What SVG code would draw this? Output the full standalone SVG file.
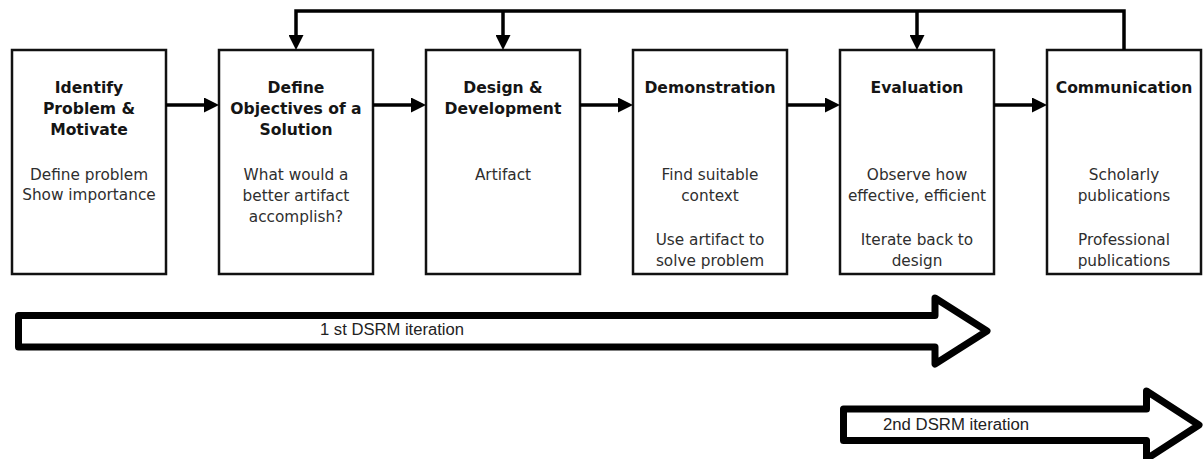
<svg xmlns="http://www.w3.org/2000/svg" width="1204" height="459" viewBox="0 0 1204 459">
  <style>
    .box { fill: #ffffff; stroke: #111111; stroke-width: 2.5; }
    .title { font-family: "DejaVu Sans", Verdana, sans-serif; font-weight: bold; font-size: 15.6px; fill: #151515; text-anchor: middle; }
    .body { font-family: "DejaVu Sans", Verdana, sans-serif; font-size: 15.3px; fill: #2e2e2e; text-anchor: middle; }
    .link { fill: none; stroke: #000000; stroke-width: 3.5; stroke-linejoin: miter; }
    .big { fill: #ffffff; stroke: #000000; stroke-width: 7; stroke-linejoin: round; }
    .iter { font-family: "Liberation Sans", Arial, sans-serif; font-size: 16px; fill: #222222; }
  </style>
  <defs>
    <marker id="head" viewBox="0 0 15 15" refX="9" refY="7.5" markerWidth="15" markerHeight="15" markerUnits="userSpaceOnUse" orient="auto">
      <path d="M0,0 L15,7.5 L0,15 Z" fill="#000000"/>
    </marker>
  </defs>

  <!-- process steps -->
  <g id="identify">
    <rect class="box" x="12" y="50" width="154" height="224"/>
    <text class="title" x="89" y="93">Identify</text>
    <text class="title" x="89" y="114">Problem &amp;</text>
    <text class="title" x="89" y="135">Motivate</text>
    <text class="body" x="89" y="180">Define problem</text>
    <text class="body" x="89" y="200">Show importance</text>
  </g>

  <g id="objectives">
    <rect class="box" x="219" y="50" width="154" height="224"/>
    <text class="title" x="296" y="93">Define</text>
    <text class="title" x="296" y="114">Objectives of a</text>
    <text class="title" x="296" y="135">Solution</text>
    <text class="body" x="296" y="180">What would a</text>
    <text class="body" x="296" y="201">better artifact</text>
    <text class="body" x="296" y="222">accomplish?</text>
  </g>

  <g id="design">
    <rect class="box" x="426" y="50" width="154" height="224"/>
    <text class="title" x="503" y="93">Design &amp;</text>
    <text class="title" x="503" y="114">Development</text>
    <text class="body" x="503" y="180">Artifact</text>
  </g>

  <g id="demonstration">
    <rect class="box" x="633" y="50" width="154" height="224"/>
    <text class="title" x="710" y="93">Demonstration</text>
    <text class="body" x="710" y="180">Find suitable</text>
    <text class="body" x="710" y="201">context</text>
    <text class="body" x="710" y="245">Use artifact to</text>
    <text class="body" x="710" y="266">solve problem</text>
  </g>

  <g id="evaluation">
    <rect class="box" x="840" y="50" width="154" height="224"/>
    <text class="title" x="917" y="93">Evaluation</text>
    <text class="body" x="917" y="180">Observe how</text>
    <text class="body" x="917" y="201">effective, efficient</text>
    <text class="body" x="917" y="245">Iterate back to</text>
    <text class="body" x="917" y="266">design</text>
  </g>

  <g id="communication">
    <rect class="box" x="1047" y="50" width="154" height="224"/>
    <text class="title" x="1124" y="93">Communication</text>
    <text class="body" x="1124" y="180">Scholarly</text>
    <text class="body" x="1124" y="201">publications</text>
    <text class="body" x="1124" y="245">Professional</text>
    <text class="body" x="1124" y="266">publications</text>
  </g>

  <!-- connectors: forward flow and feedback loop -->
  <g id="connectors">
    <path class="link" d="M166,105 H213" marker-end="url(#head)"/>
    <path class="link" d="M373,105 H420" marker-end="url(#head)"/>
    <path class="link" d="M580,105 H627" marker-end="url(#head)"/>
    <path class="link" d="M787,105 H834" marker-end="url(#head)"/>
    <path class="link" d="M994,105 H1041" marker-end="url(#head)"/>
    <path class="link" d="M1124,50 V11 H296 V44" marker-end="url(#head)"/>
    <path class="link" d="M503,11 V44" marker-end="url(#head)"/>
    <path class="link" d="M917,11 V44" marker-end="url(#head)"/>
  </g>

  <!-- iteration arrows -->
  <g id="iteration1">
    <path class="big" d="M18.5,315.5 H935 V298 L987,331 L935,364 V347 H18.5 Z"/>
    <text class="iter" x="320" y="335" textLength="144" lengthAdjust="spacingAndGlyphs">1 st DSRM iteration</text>
  </g>
  <g id="iteration2">
    <path class="big" d="M843.5,409 H1146.5 V391 L1199,425 L1146.5,459 V440.5 H843.5 Z"/>
    <text class="iter" x="883" y="430" textLength="146" lengthAdjust="spacingAndGlyphs">2nd DSRM iteration</text>
  </g>
</svg>
